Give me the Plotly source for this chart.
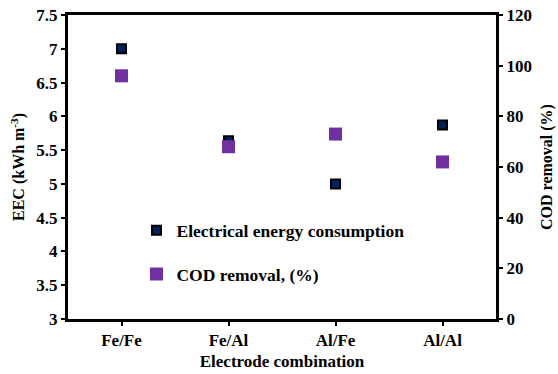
import plotly.graph_objects as go

categories = ["Fe/Fe", "Fe/Al", "Al/Fe", "Al/Al"]
eec = [7.0, 5.64, 5.0, 5.87]
cod = [96, 68, 73, 62]

font = "Liberation Serif"
fig = go.Figure()
fig.add_trace(go.Scatter(
    x=categories, y=eec, mode="markers", name="Electrical energy consumption",
    legendgroup="a",
    marker=dict(symbol="square", size=9, color="#002060", line=dict(color="black", width=2)),
))
fig.add_trace(go.Scatter(
    x=categories, y=cod, mode="markers", name="COD removal, (%)", yaxis="y2",
    legendgroup="b",
    marker=dict(symbol="square", size=13, color="#7030A0", line=dict(width=0)),
))

def bf(size):
    return dict(family=font, size=size, color="black", weight=700)

axis_common = dict(showgrid=False, zeroline=False, showline=True, linecolor="black", linewidth=3,
                   ticks="outside", ticklen=4, tickwidth=2, tickcolor="black", automargin=False,
                   tickfont=bf(17))

fig.update_layout(
    width=558, height=374,
    margin=dict(l=68, r=62, t=15, b=55),
    plot_bgcolor="white", paper_bgcolor="white",
    font=dict(family=font, color="black", weight=700),
    xaxis=dict(**axis_common, range=[-0.5, 3.5], mirror=True,
               title=dict(text="Electrode combination", font=bf(17), standoff=6)),
    yaxis=dict(**axis_common, range=[3, 7.5], dtick=0.5, mirror=True,
               title=dict(text="EEC (kWh m<sup>-3</sup>)", font=bf(16), standoff=8)),
    yaxis2=dict(**axis_common, range=[0, 120], dtick=20, overlaying="y", side="right",
                title=dict(text="COD removal (%)", font=bf(16), standoff=10)),
    legend=dict(x=0.16, y=0.351, xanchor="left", yanchor="top", bgcolor="rgba(0,0,0,0)",
                font=bf(17.5), tracegroupgap=18, itemwidth=30),
    showlegend=True,
)

fig.write_html("out.html")
